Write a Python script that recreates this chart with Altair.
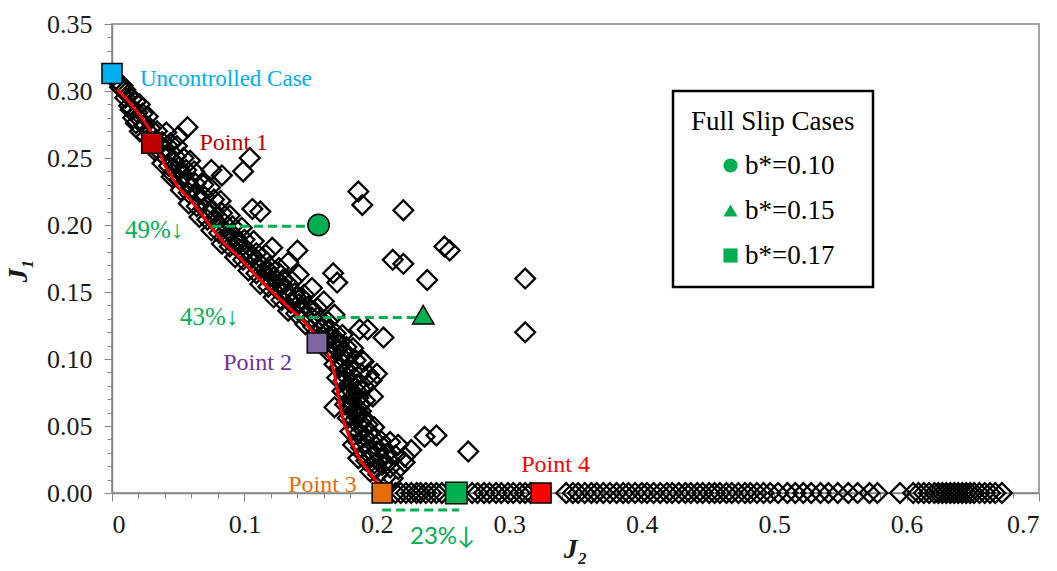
import altair as alt
import pandas as pd

# ---------------- data ----------------
# Dense band of Pareto candidate solutions (J2, J1)
front_points = [
    (0.004, 0.307), (0.008, 0.304), (0.010, 0.301), (0.006, 0.303),
    (0.012, 0.297), (0.015, 0.294), (0.018, 0.292), (0.010, 0.295), (0.021, 0.290),
    (0.014, 0.286), (0.019, 0.284), (0.023, 0.283), (0.027, 0.281), (0.016, 0.280),
    (0.018, 0.276), (0.024, 0.274), (0.029, 0.272), (0.034, 0.270), (0.041, 0.269), (0.021, 0.270),
    (0.026, 0.266), (0.033, 0.263), (0.038, 0.262), (0.044, 0.261), (0.049, 0.259),
    (0.032, 0.256), (0.037, 0.254), (0.042, 0.253), (0.048, 0.251), (0.054, 0.250), (0.059, 0.248),
    (0.038, 0.246), (0.043, 0.244), (0.050, 0.243), (0.056, 0.241), (0.062, 0.240), (0.046, 0.238),
    (0.045, 0.236), (0.051, 0.234), (0.057, 0.232), (0.063, 0.231), (0.069, 0.230), (0.074, 0.228),
    (0.052, 0.226), (0.058, 0.224), (0.064, 0.222), (0.070, 0.221), (0.077, 0.219), (0.082, 0.218),
    (0.058, 0.216), (0.064, 0.214), (0.070, 0.212), (0.076, 0.211), (0.083, 0.209), (0.089, 0.207),
    (0.066, 0.206), (0.072, 0.204), (0.078, 0.202), (0.085, 0.201), (0.091, 0.199), (0.098, 0.198),
    (0.075, 0.196), (0.081, 0.194), (0.087, 0.192), (0.093, 0.191), (0.100, 0.189), (0.107, 0.188),
    (0.083, 0.186), (0.089, 0.184), (0.096, 0.182), (0.102, 0.181), (0.109, 0.179), (0.116, 0.178), (0.121, 0.183),
    (0.093, 0.176), (0.099, 0.174), (0.106, 0.172), (0.112, 0.171), (0.119, 0.169), (0.126, 0.168), (0.133, 0.172),
    (0.103, 0.166), (0.109, 0.164), (0.116, 0.162), (0.122, 0.161), (0.129, 0.159), (0.136, 0.158), (0.141, 0.163),
    (0.112, 0.156), (0.118, 0.154), (0.125, 0.152), (0.131, 0.151), (0.138, 0.149), (0.145, 0.148), (0.151, 0.153),
    (0.122, 0.146), (0.128, 0.144), (0.135, 0.142), (0.141, 0.141), (0.148, 0.139), (0.155, 0.138), (0.160, 0.143),
    (0.133, 0.136), (0.139, 0.134), (0.145, 0.132), (0.151, 0.131), (0.157, 0.129), (0.163, 0.128), (0.168, 0.133),
    (0.146, 0.126), (0.152, 0.124), (0.158, 0.122), (0.163, 0.121), (0.169, 0.119), (0.174, 0.118),
    (0.156, 0.116), (0.161, 0.114), (0.166, 0.112), (0.171, 0.111), (0.177, 0.109), (0.182, 0.108),
    (0.163, 0.106), (0.168, 0.104), (0.173, 0.102), (0.178, 0.101), (0.184, 0.099), (0.190, 0.098),
    (0.168, 0.096), (0.172, 0.094), (0.177, 0.092), (0.182, 0.091), (0.188, 0.089), (0.194, 0.088),
    (0.170, 0.086), (0.175, 0.084), (0.180, 0.082), (0.185, 0.081), (0.191, 0.079), (0.196, 0.084),
    (0.174, 0.076), (0.178, 0.074), (0.182, 0.072), (0.186, 0.071), (0.191, 0.069),
    (0.176, 0.066), (0.180, 0.064), (0.184, 0.062), (0.188, 0.061), (0.180, 0.058), (0.185, 0.057),
    (0.178, 0.056), (0.183, 0.054), (0.188, 0.052), (0.193, 0.051), (0.198, 0.049),
    (0.180, 0.046), (0.186, 0.044), (0.191, 0.042), (0.197, 0.041), (0.203, 0.039), (0.210, 0.038), (0.216, 0.036),
    (0.182, 0.036), (0.188, 0.034), (0.194, 0.032), (0.200, 0.031), (0.207, 0.029), (0.214, 0.028), (0.221, 0.027), (0.226, 0.032),
    (0.186, 0.026), (0.192, 0.024), (0.198, 0.022), (0.204, 0.021), (0.210, 0.019), (0.216, 0.018), (0.221, 0.023),
    (0.195, 0.016), (0.201, 0.014), (0.207, 0.012), (0.212, 0.011),
    # second, interleaved pass that thickens the band
    (0.013, 0.289), (0.022, 0.278), (0.030, 0.267), (0.040, 0.257), (0.047, 0.247),
    (0.054, 0.237), (0.060, 0.228), (0.067, 0.218), (0.074, 0.208), (0.081, 0.199),
    (0.088, 0.189), (0.095, 0.187), (0.099, 0.179), (0.106, 0.177), (0.111, 0.168),
    (0.118, 0.166), (0.121, 0.158), (0.128, 0.156), (0.132, 0.147), (0.139, 0.146),
    (0.143, 0.137), (0.150, 0.136), (0.155, 0.127), (0.161, 0.126), (0.164, 0.117),
    (0.169, 0.115), (0.170, 0.107), (0.176, 0.105), (0.174, 0.097), (0.180, 0.095),
    (0.177, 0.087), (0.183, 0.086), (0.179, 0.078), (0.185, 0.076), (0.182, 0.067),
    (0.187, 0.066), (0.185, 0.059), (0.190, 0.056), (0.184, 0.048), (0.190, 0.047),
    (0.195, 0.045), (0.186, 0.038), (0.192, 0.037), (0.199, 0.035), (0.205, 0.034),
    (0.190, 0.029), (0.196, 0.027), (0.203, 0.026), (0.210, 0.024), (0.199, 0.018),
]

# Scattered solutions away from the band (J2, J1)
outlier_points = [
    (0.057, 0.273), (0.050, 0.266), (0.104, 0.250), (0.099, 0.240), (0.083, 0.237),
    (0.075, 0.241), (0.112, 0.210), (0.106, 0.212), (0.140, 0.181),
    (0.186, 0.225), (0.189, 0.215), (0.220, 0.211), (0.251, 0.184), (0.255, 0.181),
    (0.212, 0.174), (0.220, 0.171), (0.238, 0.159), (0.312, 0.160), (0.312, 0.120),
    (0.167, 0.164), (0.170, 0.157), (0.187, 0.122), (0.193, 0.122), (0.205, 0.116),
    (0.189, 0.099), (0.200, 0.089), (0.197, 0.072), (0.168, 0.064),
    (0.236, 0.042), (0.245, 0.043), (0.269, 0.031),
]

# Solutions lying on J1 = 0 (J2 values)
zero_row_j2 = [
    0.214, 0.218, 0.222, 0.226, 0.230, 0.233, 0.237, 0.241, 0.245, 0.249,
    0.272, 0.276, 0.281, 0.285, 0.290, 0.294, 0.299, 0.303, 0.308, 0.312, 0.316,
    0.343, 0.348, 0.352, 0.357, 0.362, 0.366, 0.371, 0.376, 0.381, 0.386, 0.390,
    0.395, 0.400, 0.404, 0.409, 0.414, 0.419, 0.423, 0.428, 0.433, 0.437, 0.442,
    0.446, 0.451, 0.455, 0.459, 0.464, 0.468, 0.473, 0.478, 0.482, 0.487, 0.492,
    0.497, 0.503, 0.510, 0.516, 0.522, 0.528, 0.535, 0.541, 0.548, 0.556, 0.563,
    0.572, 0.578, 0.595, 0.605, 0.609, 0.613, 0.617, 0.621, 0.624, 0.627, 0.630,
    0.633, 0.636, 0.639, 0.642, 0.645, 0.648, 0.651, 0.655, 0.659, 0.663, 0.667, 0.672,
]

# Red Pareto front curve
pareto_j2 = [0.004, 0.012, 0.021, 0.028, 0.033, 0.036, 0.039, 0.045, 0.050, 0.059,
             0.067, 0.075, 0.085, 0.097, 0.108, 0.120, 0.134, 0.144, 0.152, 0.160,
             0.165, 0.168, 0.170, 0.172, 0.175, 0.180, 0.186, 0.193, 0.200, 0.210]
pareto_j1 = [0.301, 0.293, 0.282, 0.272, 0.262, 0.254, 0.246, 0.236, 0.228, 0.219,
             0.209, 0.198, 0.186, 0.175, 0.163, 0.151, 0.138, 0.129, 0.120, 0.109,
             0.099, 0.089, 0.077, 0.066, 0.053, 0.040, 0.027, 0.017, 0.008, 0.000]

# Highlighted cases
case_names = ["Uncontrolled Case", "Point 1", "Point 2", "Point 3", "Point 4"]
case_j2 = [0.000, 0.030, 0.155, 0.204, 0.324]
case_j1 = [0.313, 0.261, 0.112, 0.000, 0.000]
case_colors = ["#00B0F0", "#C00000", "#8064A2", "#E46C0A", "#FF0000"]

# Full slip cases
slip_labels = ["b*=0.10", "b*=0.15", "b*=0.17"]
slip_j2 = [0.156, 0.235, 0.260]
slip_j1 = [0.200, 0.133, 0.000]

# Reduction guides (dashed)
guide_from = [0.0755, 0.138, 0.204]
guide_to = [0.156, 0.235, 0.262]
guide_j1 = [0.199, 0.131, -0.0127]

# Labels
label_text = ["Point 1", "Point 2", "Point 3", "Point 4"]
label_j2 = [0.066, 0.084, 0.133, 0.309]
label_j1 = [0.261, 0.097, 0.006, 0.021]
label_colors = ["#C00000", "#7030A0", "#E46C0A", "#FF0000"]

pct_text = ["49%↓", "43%↓"]
pct_j2 = [0.0098, 0.0513]
pct_j1 = [0.196, 0.131]

# Axis ticks
x_tick_values = [i / 50 for i in range(36)]   # every 0.02, labelled every 0.1
y_tick_values = [i / 100 for i in range(36)]  # every 0.01, labelled every 0.05

# ---------------- tables ----------------
diam = pd.DataFrame(
    [{"J2": a, "J1": b} for a, b in front_points]
    + [{"J2": a, "J1": b} for a, b in outlier_points]
    + [{"J2": a, "J1": 0.0} for a in zero_row_j2]
)
pareto = pd.DataFrame({"J2": pareto_j2, "J1": pareto_j1, "i": range(len(pareto_j2))})
cases = pd.DataFrame({"name": case_names, "J2": case_j2, "J1": case_j1, "c": case_colors})
slips = pd.DataFrame({"label": slip_labels, "J2": slip_j2, "J1": slip_j1})
guides = pd.DataFrame({"a": guide_from, "b": guide_to, "J1": guide_j1})
labels = pd.DataFrame({"t": label_text, "J2": label_j2, "J1": label_j1, "c": label_colors})
pcts = pd.DataFrame({"t": pct_text, "J2": pct_j2, "J1": pct_j1})

SERIF = "Liberation Serif"
GREEN = "#00B050"
AX = "#868686"

xs = alt.Scale(domain=[0, 0.7], nice=False, zero=False)
ys = alt.Scale(domain=[0, 0.35], nice=False, zero=False)

x_major_test = "abs(datum.value * 10 - round(datum.value * 10)) < 0.001"
y_major_test = "abs(datum.value * 20 - round(datum.value * 20)) < 0.001"

x_axis = alt.Axis(
    orient="bottom", values=x_tick_values,
    labelExpr=f"{x_major_test} ? format(datum.value, '~g') : ''",
    tickSize={"condition": {"test": x_major_test, "value": 8}, "value": 5},
    tickColor=AX, domainColor=AX, domainWidth=1.5,
    labelFont=SERIF, labelFontSize=26, labelColor="#1a1a1a", labelPadding=10,
    labelOverlap=False, grid=False,
    title="J₂", titleFont=SERIF, titleFontSize=28, titleFontStyle="italic",
    titleFontWeight="bold", titleColor="#1a1a1a", titleX=463, titleY=56,
    titleBaseline="middle",
)
y_axis = alt.Axis(
    orient="left", values=y_tick_values,
    labelExpr=f"{y_major_test} ? format(datum.value, '.2f') : ''",
    tickSize={"condition": {"test": y_major_test, "value": 8}, "value": 5},
    tickColor=AX, domainColor=AX, domainWidth=1.5,
    labelFont=SERIF, labelFontSize=26, labelColor="#1a1a1a", labelPadding=12,
    labelOverlap=False, grid=False,
    title="J₁", titleFont=SERIF, titleFontSize=28, titleFontStyle="italic",
    titleFontWeight="bold", titleColor="#1a1a1a", titleX=-94, titleY=246,
    titleBaseline="middle", titleAngle=270,
)


def X(field):
    return alt.X(field, scale=xs, axis=x_axis)


def Y(field):
    return alt.Y(field, scale=ys, axis=y_axis)


diamonds = alt.Chart(diam).mark_point(
    shape="diamond", filled=False, stroke="black", strokeWidth=2.3, size=390, opacity=1
).encode(x=X("J2:Q"), y=Y("J1:Q"))

front_line = alt.Chart(pareto).mark_line(color="#FF0000", strokeWidth=3).encode(
    x=X("J2:Q"), y=Y("J1:Q"), order="i:Q",
)

guide_rules = alt.Chart(guides).mark_rule(
    color=GREEN, strokeWidth=3, strokeDash=[9, 5]
).encode(x=X("a:Q"), x2="b:Q", y=Y("J1:Q"))

case_pts = alt.Chart(cases).mark_point(
    shape="square", filled=True, stroke="black", strokeWidth=1.5, size=400, opacity=1
).encode(x=X("J2:Q"), y=Y("J1:Q"), fill=alt.Fill("c:N", scale=None))

slip_pts = alt.Chart(slips).mark_point(
    filled=True, fill=GREEN, stroke="black", strokeWidth=1.5, opacity=1, size=460
).encode(
    x=X("J2:Q"), y=Y("J1:Q"),
    shape=alt.Shape(
        "label:N",
        scale=alt.Scale(domain=slip_labels, range=["circle", "triangle-up", "square"]),
        legend=alt.Legend(
            title="Full Slip Cases", orient="none", legendX=561, legendY=67,
            titleFont=SERIF, titleFontSize=27, titleFontWeight="normal", titleColor="black",
            titlePadding=16, labelFont=SERIF, labelFontSize=27, labelColor="black",
            labelOffset=1, symbolSize=200, symbolFillColor=GREEN, symbolStrokeColor="black",
            symbolStrokeWidth=1, symbolOffset=26, rowPadding=17, padding=18,
            strokeColor="black", fillColor="white",
        ),
    ),
)

point_labels = alt.Chart(labels).mark_text(
    align="left", baseline="middle", font=SERIF, fontSize=24
).encode(x=X("J2:Q"), y=Y("J1:Q"), text="t:N", color=alt.Color("c:N", scale=None))

unc_label = alt.Chart(cases.iloc[[0]]).mark_text(
    align="left", baseline="middle", font=SERIF, fontSize=23, color="#00B0F0",
    dx=28, dy=5
).encode(x=X("J2:Q"), y=Y("J1:Q"), text="name:N")

pct_labels = alt.Chart(pcts).mark_text(
    align="left", baseline="middle", font=SERIF, fontSize=25, color=GREEN
).encode(x=X("J2:Q"), y=Y("J1:Q"), text="t:N")

pct3 = alt.Chart(pd.DataFrame({"t": ["23%↓"], "J2": [0.225], "J1": [-0.033]})).mark_text(
    align="left", baseline="middle", font="Lato", fontSize=24, color=GREEN
).encode(x=X("J2:Q"), y=Y("J1:Q"), text="t:N")

chart = alt.layer(
    diamonds, front_line, guide_rules, case_pts, slip_pts,
    point_labels, unc_label, pct_labels, pct3,
).properties(
    width=927, height=469,
    background="white",
    autosize=alt.AutoSizeParams(type="none"),
    padding={"left": 112, "top": 24, "right": 18, "bottom": 78},
).configure_view(
    stroke=AX, strokeWidth=1.5
).configure_legend(
    strokeWidth=2.5
).configure_axis(
    labelFont=SERIF, titleFont=SERIF, labelFontSize=26
)

chart.save("out.html", embed_options={"renderer": "svg", "actions": False})
